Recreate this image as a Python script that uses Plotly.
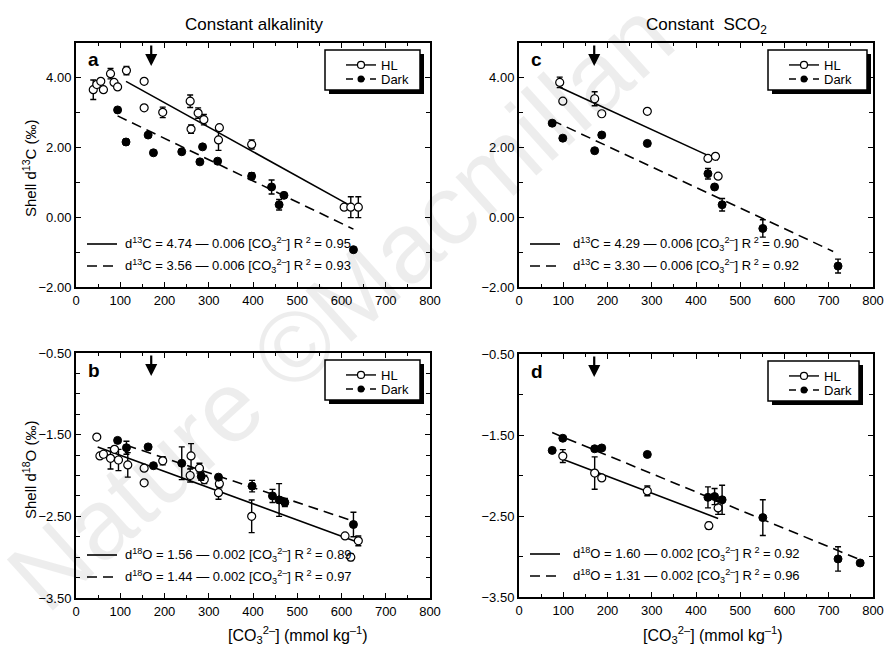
import plotly.graph_objects as go

W, H = 885, 648

# ---------------- data ----------------
# Panel a: d13C, constant alkalinity
a_hl_x = [39, 47, 56, 62, 78, 86, 94, 114, 154, 154, 196, 258, 260, 276, 289, 322, 324, 397, 606, 621, 638]
a_hl_y = [3.66, 3.81, 3.90, 3.66, 4.12, 3.87, 3.74, 4.21, 3.90, 3.14, 3.01, 3.33, 2.53, 2.99, 2.80, 2.22, 2.57, 2.09, 0.29, 0.29, 0.29]
a_hl_e = [0.28, 0, 0, 0, 0.15, 0, 0.05, 0.12, 0.07, 0, 0.15, 0.18, 0.12, 0.15, 0.15, 0.30, 0.05, 0.13, 0, 0.30, 0.30]
a_dk_x = [94, 113, 163, 175, 239, 280, 286, 320, 397, 442, 459, 470, 627]
a_dk_y = [3.08, 2.16, 2.36, 1.85, 1.88, 1.59, 2.02, 1.61, 1.18, 0.87, 0.36, 0.63, -0.93]
a_dk_e = [0, 0.08, 0, 0, 0, 0, 0, 0, 0.10, 0.20, 0.15, 0, 0]
a_fit_hl_x = [113, 625]
a_fit_hl_y = [3.90, 0.30]
a_fit_dk_x = [94, 627]
a_fit_dk_y = [2.91, -0.34]

# Panel c: d13C, constant SCO2
c_hl_x = [92, 99, 171, 187, 290, 427, 444, 450]
c_hl_y = [3.87, 3.33, 3.40, 2.97, 3.04, 1.69, 1.75, 1.18]
c_hl_e = [0.15, 0.05, 0.20, 0.03, 0.05, 0.03, 0.05, 0.05]
c_dk_x = [75, 99, 171, 187, 290, 427, 442, 459, 551, 721]
c_dk_y = [2.70, 2.27, 1.91, 2.36, 2.12, 1.25, 0.87, 0.36, -0.32, -1.40]
c_dk_e = [0, 0, 0, 0, 0, 0.15, 0, 0.18, 0.25, 0.20]
c_fit_hl_x = [92, 450]
c_fit_hl_y = [3.73, 1.64]
c_fit_dk_x = [75, 710]
c_fit_dk_y = [2.78, -0.98]

# Panel b: d18O, constant alkalinity
b_hl_x = [47, 54, 62, 78, 87, 96, 117, 154, 154, 196, 258, 260, 279, 290, 322, 324, 397, 608, 621, 638]
b_hl_y = [-1.53, -1.76, -1.74, -1.79, -1.68, -1.81, -1.87, -1.91, -2.09, -1.82, -2.00, -1.76, -1.91, -2.05, -2.21, -2.10, -2.50, -2.74, -3.00, -2.80]
b_hl_e = [0, 0, 0.03, 0.13, 0, 0.13, 0.15, 0.03, 0, 0.05, 0.08, 0.15, 0.06, 0.05, 0.08, 0.05, 0.20, 0, 0.04, 0.06]
b_dk_x = [94, 114, 163, 175, 239, 283, 322, 398, 444, 459, 472, 627]
b_dk_y = [-1.57, -1.66, -1.65, -1.88, -1.85, -2.01, -2.02, -2.13, -2.25, -2.30, -2.33, -2.60]
b_dk_e = [0, 0.08, 0, 0, 0.20, 0.05, 0, 0.07, 0.08, 0.20, 0.05, 0.15]
b_fit_hl_x = [49, 634]
b_fit_hl_y = [-1.65, -2.81]
b_fit_dk_x = [114, 627]
b_fit_dk_y = [-1.63, -2.56]

# Panel d: d18O, constant SCO2
d_hl_x = [99, 171, 187, 290, 429, 450]
d_hl_y = [-1.76, -1.97, -2.03, -2.19, -2.62, -2.40]
d_hl_e = [0.08, 0.20, 0.03, 0.06, 0.04, 0.08]
d_dk_x = [75, 99, 171, 187, 290, 427, 442, 459, 551, 721, 771]
d_dk_y = [-1.69, -1.54, -1.67, -1.66, -1.74, -2.27, -2.26, -2.30, -2.52, -3.03, -3.08]
d_dk_e = [0, 0, 0, 0, 0, 0.13, 0.10, 0.18, 0.22, 0.15, 0]
d_fit_hl_x = [99, 450]
d_fit_hl_y = [-1.80, -2.53]
d_fit_dk_x = [75, 771]
d_fit_dk_y = [-1.47, -3.04]

arrow_x = 170
eq_a = ["d<sup>13</sup>C = 4.74 — 0.006 [CO<sub>3</sub><sup>2–</sup>] R<sup> 2</sup> = 0.95",
        "d<sup>13</sup>C = 3.56 — 0.006 [CO<sub>3</sub><sup>2–</sup>] R<sup> 2</sup> = 0.93"]
eq_c = ["d<sup>13</sup>C = 4.29 — 0.006 [CO<sub>3</sub><sup>2–</sup>] R<sup> 2</sup> = 0.90",
        "d<sup>13</sup>C = 3.30 — 0.006 [CO<sub>3</sub><sup>2–</sup>] R<sup> 2</sup> = 0.92"]
eq_b = ["d<sup>18</sup>O = 1.56 — 0.002 [CO<sub>3</sub><sup>2–</sup>] R<sup> 2</sup> = 0.89",
        "d<sup>18</sup>O = 1.44 — 0.002 [CO<sub>3</sub><sup>2–</sup>] R<sup> 2</sup> = 0.97"]
eq_d = ["d<sup>18</sup>O = 1.60 — 0.002 [CO<sub>3</sub><sup>2–</sup>] R<sup> 2</sup> = 0.92",
        "d<sup>18</sup>O = 1.31 — 0.002 [CO<sub>3</sub><sup>2–</sup>] R<sup> 2</sup> = 0.96"]

FONT = "Liberation Sans, Arial, sans-serif"

def px(x):
    return x / W

def py(y):
    return 1 - y / H

# panel geometry in pixels: (left, right, top, bottom)
panels = {
    "a": dict(xa="x", ya="y", box=(76, 430, 43, 287), yr=[-2, 5], dt=2, t0=-2, mn=1,
              hl=(a_hl_x, a_hl_y, a_hl_e), dk=(a_dk_x, a_dk_y, a_dk_e),
              fhl=(a_fit_hl_x, a_fit_hl_y), fdk=(a_fit_dk_x, a_fit_dk_y), eq=eq_a,
              legs=("legend", "legend2"), bw=95),
    "c": dict(xa="x2", ya="y2", box=(519, 873, 43, 287), yr=[-2, 5], dt=2, t0=-2, mn=1,
              hl=(c_hl_x, c_hl_y, c_hl_e), dk=(c_dk_x, c_dk_y, c_dk_e),
              fhl=(c_fit_hl_x, c_fit_hl_y), fdk=(c_fit_dk_x, c_fit_dk_y), eq=eq_c,
              legs=("legend3", "legend4"), bw=99),
    "b": dict(xa="x3", ya="y3", box=(76, 430, 353, 598), yr=[-3.5, -0.5], dt=1, t0=-3.5, mn=0.25,
              hl=(b_hl_x, b_hl_y, b_hl_e), dk=(b_dk_x, b_dk_y, b_dk_e),
              fhl=(b_fit_hl_x, b_fit_hl_y), fdk=(b_fit_dk_x, b_fit_dk_y), eq=eq_b,
              legs=("legend5", "legend6"), bw=95),
    "d": dict(xa="x4", ya="y4", box=(519, 873, 354, 597), yr=[-3.5, -0.5], dt=1, t0=-3.5, mn=0.5,
              hl=(d_hl_x, d_hl_y, d_hl_e), dk=(d_dk_x, d_dk_y, d_dk_e),
              fhl=(d_fit_hl_x, d_fit_hl_y), fdk=(d_fit_dk_x, d_fit_dk_y), eq=eq_d,
              legs=("legend7", "legend8"), bw=91),
}

fig = go.Figure()
layout = dict(width=W, height=H, margin=dict(l=0, r=0, t=0, b=0),
              paper_bgcolor="white", plot_bgcolor="rgba(0,0,0,0)",
              font=dict(family=FONT, size=13, color="black"), showlegend=True)
annotations = []
shapes = []

# watermark
annotations.append(dict(text="Nature ©Macmillan", x=px(340), y=py(305), xref="paper", yref="paper",
                        xanchor="center", yanchor="middle", showarrow=False, textangle=-42,
                        font=dict(size=100, color="rgba(0,0,0,0.07)", family=FONT)))

for key, p in panels.items():
    l, r, t, b = p["box"]
    xa, ya = p["xa"], p["ya"]
    xname = "xaxis" + xa[1:]
    yname = "yaxis" + ya[1:]
    layout[xname] = dict(domain=[px(l), px(r)], anchor=ya, range=[0, 800], dtick=100, tick0=0,
                         showline=True, linewidth=2, linecolor="black", mirror="allticks",
                         ticks="inside", ticklen=5, tickwidth=1, tickcolor="black",
                         minor=dict(dtick=50, ticks="inside", ticklen=3, tickcolor="black"),
                         showgrid=False, zeroline=False, tickfont=dict(size=13), automargin=False)
    layout[yname] = dict(domain=[py(b), py(t)], anchor=xa, range=p["yr"], dtick=p["dt"], tick0=p["t0"],
                         tickformat=".2f", showline=True, linewidth=2, linecolor="black", mirror="allticks",
                         ticks="inside", ticklen=5, tickwidth=1, tickcolor="black",
                         minor=dict(dtick=p["mn"], ticks="inside", ticklen=4, tickcolor="black"),
                         showgrid=False, zeroline=False, tickfont=dict(size=13), automargin=False)

    # fit lines
    fx, fy = p["fhl"]
    fig.add_trace(go.Scatter(x=fx, y=fy, mode="lines", xaxis=xa, yaxis=ya, showlegend=False,
                             line=dict(color="black", width=1.6)))
    fx, fy = p["fdk"]
    fig.add_trace(go.Scatter(x=fx, y=fy, mode="lines", xaxis=xa, yaxis=ya, showlegend=False,
                             line=dict(color="black", width=1.6, dash="10px,6px")))
    # data points
    hx, hy, he = p["hl"]
    fig.add_trace(go.Scatter(x=hx, y=hy, mode="markers", xaxis=xa, yaxis=ya, showlegend=False,
                             marker=dict(symbol="circle", size=8, color="white",
                                         line=dict(color="black", width=1.2)),
                             error_y=dict(type="data", array=he, color="black", thickness=1.4, width=3)))
    dx, dy, de = p["dk"]
    fig.add_trace(go.Scatter(x=dx, y=dy, mode="markers", xaxis=xa, yaxis=ya, showlegend=False,
                             marker=dict(symbol="circle", size=8, color="black",
                                         line=dict(color="black", width=1)),
                             error_y=dict(type="data", array=de, color="black", thickness=1.4, width=3)))

    # legend box with shadow
    bx0, bx1 = l + 249, l + 249 + p["bw"]
    by0, by1 = t + 7, t + 47
    shapes.append(dict(type="rect", xref="paper", yref="paper", x0=px(bx0 + 4), x1=px(bx1 + 4),
                       y0=py(by1 + 4), y1=py(by0 + 4), fillcolor="black", line=dict(width=0), layer="below"))
    shapes.append(dict(type="rect", xref="paper", yref="paper", x0=px(bx0), x1=px(bx1),
                       y0=py(by1), y1=py(by0), fillcolor="white", line=dict(color="black", width=1.5), layer="below"))

    # legend entries (one legend per entry so that spacing can be tight)
    lg_hl, lg_dk = p["legs"]
    fig.add_trace(go.Scatter(x=[None], y=[None], mode="lines+markers", name="HL", xaxis=xa, yaxis=ya,
                             legend=lg_hl, line=dict(color="black", width=1.4),
                             marker=dict(symbol="circle", size=7, color="white", line=dict(color="black", width=1.2))))
    fig.add_trace(go.Scatter(x=[None], y=[None], mode="lines+markers", name="Dark", xaxis=xa, yaxis=ya,
                             legend=lg_dk, line=dict(color="black", width=1.4, dash="7px,5px"),
                             marker=dict(symbol="circle", size=7, color="black")))
    for lg, yy in ((lg_hl, by0 + 15), (lg_dk, by0 + 29)):
        layout[lg] = dict(x=px(bx0 + 16), y=py(yy), xanchor="left", yanchor="middle",
                          bgcolor="rgba(0,0,0,0)", borderwidth=0, font=dict(size=13, family=FONT),
                          itemwidth=30, tracegroupgap=0, itemclick=False, itemdoubleclick=False)

    # equation samples
    left_eq = l + 11
    txt_x = l + 47 if key in ("a", "b") else l + 52
    y1 = b - 43
    y2 = b - 21
    shapes.append(dict(type="line", xref="paper", yref="paper", x0=px(left_eq), x1=px(left_eq + 30),
                       y0=py(y1), y1=py(y1), line=dict(color="black", width=1.6)))
    shapes.append(dict(type="line", xref="paper", yref="paper", x0=px(left_eq), x1=px(left_eq + 30),
                       y0=py(y2), y1=py(y2), line=dict(color="black", width=1.6, dash="10px,6px")))
    for yy, tx in zip((y1, y2), p["eq"]):
        annotations.append(dict(text=tx, x=px(txt_x), y=py(yy), xref="paper", yref="paper",
                                xanchor="left", yanchor="middle", showarrow=False,
                                font=dict(size=13, family=FONT)))

    # panel letter
    annotations.append(dict(text="<b>%s</b>" % key, x=px(l + 10), y=py(t + 17), xref="paper", yref="paper",
                            xanchor="left", yanchor="middle", showarrow=False, font=dict(size=19, family=FONT)))
    # arrow
    annotations.append(dict(x=arrow_x, y=py(t + 23), xref=xa, yref="paper", ax=0, ay=-22,
                            showarrow=True, arrowhead=2, arrowsize=1.1, arrowwidth=2.2, arrowcolor="black", text=""))

# titles
annotations.append(dict(text="Constant alkalinity", x=px(254), y=py(25), xref="paper", yref="paper",
                        xanchor="center", yanchor="middle", showarrow=False, font=dict(size=17, family=FONT)))
annotations.append(dict(text="Constant  SCO<sub>2</sub>", x=px(706), y=py(26), xref="paper", yref="paper",
                        xanchor="center", yanchor="middle", showarrow=False, font=dict(size=17, family=FONT)))
annotations.append(dict(text="Shell d<sup>13</sup>C (‰)", x=px(29), y=py(168), xref="paper", yref="paper",
                        xanchor="center", yanchor="middle", showarrow=False, textangle=-90,
                        font=dict(size=15, family=FONT)))
annotations.append(dict(text="Shell d<sup>18</sup>O (‰)", x=px(29), y=py(470), xref="paper", yref="paper",
                        xanchor="center", yanchor="middle", showarrow=False, textangle=-90,
                        font=dict(size=15, family=FONT)))
for cx in (298, 713):
    annotations.append(dict(text="[CO<sub>3</sub><sup>2–</sup>] (mmol kg<sup>–1</sup>)", x=px(cx), y=py(635),
                            xref="paper", yref="paper", xanchor="center", yanchor="middle",
                            showarrow=False, font=dict(size=16, family=FONT)))

layout["annotations"] = annotations
layout["shapes"] = shapes
fig.update_layout(**layout)
fig.write_html("out.html", config={"displayModeBar": False},
               post_script="document.body.style.margin='0';document.body.style.overflow='hidden';")
